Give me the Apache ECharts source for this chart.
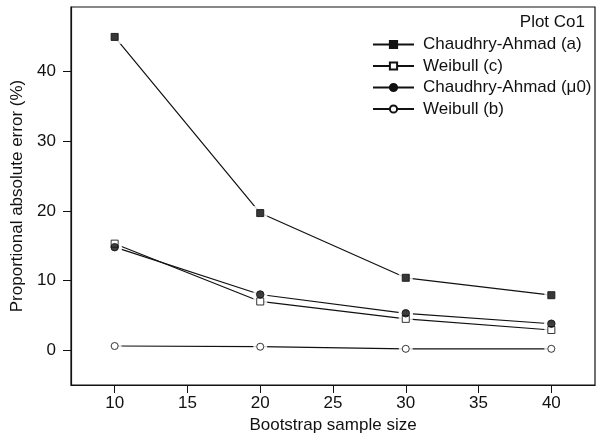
<!DOCTYPE html>
<html><head><meta charset="utf-8">
<script src="https://cdn.jsdelivr.net/npm/echarts@6/dist/echarts.min.js"></script>
<style>html,body{margin:0;padding:0;background:#fff}#c{width:604px;height:441px}</style>
</head><body><div id="c"></div>
<script>
var sampleSizes = [10, 20, 30, 40];
var xTicks = [10, 15, 20, 25, 30, 35, 40];
var yTicks = [0, 10, 20, 30, 40];
var chaudhryA = [45.0, 19.7, 10.4, 7.9];
var weibullC = [15.3, 7.0, 4.5, 2.9];
var chaudhryMu0 = [14.8, 8.0, 5.3, 3.8];
var weibullB = [0.6, 0.5, 0.2, 0.2];
var seriesNames = ['Chaudhry-Ahmad (a)', 'Weibull (c)', 'Chaudhry-Ahmad (\u03bc0)', 'Weibull (b)'];

function pairs(vals){ return sampleSizes.map(function(x,i){return [x, vals[i]];}); }
var font = 'Liberation Sans, Arial, sans-serif';
var ink = '#111';
var specs = [
  {name: seriesNames[0], vals: chaudhryA, symbol: 'rect', filled: true, size: 7},
  {name: seriesNames[1], vals: weibullC, symbol: 'rect', filled: false, size: 7},
  {name: seriesNames[2], vals: chaudhryMu0, symbol: 'circle', filled: true, size: 7.5},
  {name: seriesNames[3], vals: weibullB, symbol: 'circle', filled: false, size: 7}
];
var series = [];
specs.forEach(function(s){
  series.push({
    name: s.name, type: 'line', data: pairs(s.vals), symbol: s.symbol, symbolSize: s.size,
    lineStyle: {color: ink, width: 1.2},
    itemStyle: {color: s.filled ? ink : '#fff', borderColor: ink, borderWidth: 1},
    emphasis: {disabled: true}, silent: true, z: 2
  });
});
specs.forEach(function(s){
  series.push({
    type: 'scatter', data: pairs(s.vals), symbol: s.symbol, symbolSize: s.size + 7,
    itemStyle: {color: '#fff'}, emphasis: {disabled: true}, silent: true, z: 3
  });
});
specs.forEach(function(s){
  series.push({
    type: 'scatter', data: pairs(s.vals), symbol: s.symbol, symbolSize: s.size,
    itemStyle: {color: s.filled ? ink : '#fff', borderColor: ink, borderWidth: 1},
    emphasis: {disabled: true}, silent: true, z: 4
  });
});
var chart = echarts.init(document.getElementById('c'), null, {renderer: 'canvas'});
chart.setOption({
  animation: false,
  backgroundColor: '#fff',
  title: {text: 'Plot Co1', right: 19, top: 14, padding: 0,
    textStyle: {fontFamily: font, fontSize: 17, fontWeight: 'normal', color: ink}},
  legend: {
    orient: 'vertical', left: 372, top: 36, padding: 0, itemWidth: 41, itemHeight: 9, itemGap: 4.5,
    textStyle: {fontFamily: font, fontSize: 17, color: ink, padding: [0, 0, 0, 4]},
    data: seriesNames, selectedMode: false
  },
  grid: {left: 71, right: 9, top: 7, bottom: 56, show: true, borderColor: ink, borderWidth: 1.2},
  xAxis: {
    type: 'value', min: 7, max: 43,
    name: 'Bootstrap sample size', nameLocation: 'middle', nameGap: 29,
    nameTextStyle: {fontFamily: font, fontSize: 17, color: ink},
    axisLine: {show: true, onZero: false, lineStyle: {color: ink, width: 1.2}},
    axisTick: {show: true, length: 8, customValues: xTicks, lineStyle: {color: ink}},
    axisLabel: {customValues: xTicks, fontFamily: font, fontSize: 17, color: ink, margin: 10},
    splitLine: {show: false}
  },
  yAxis: {
    type: 'value', min: -5, max: 49.3,
    name: 'Proportional absolute error (%)', nameLocation: 'middle', nameGap: 41,
    nameTextStyle: {fontFamily: font, fontSize: 17, color: ink},
    axisLine: {show: true, onZero: false, lineStyle: {color: ink, width: 1.2}},
    axisTick: {show: true, length: 8, customValues: yTicks, lineStyle: {color: ink}},
    axisLabel: {customValues: yTicks, fontFamily: font, fontSize: 17, color: ink, margin: 15},
    splitLine: {show: false}
  },
  series: series
});
</script></body></html>
